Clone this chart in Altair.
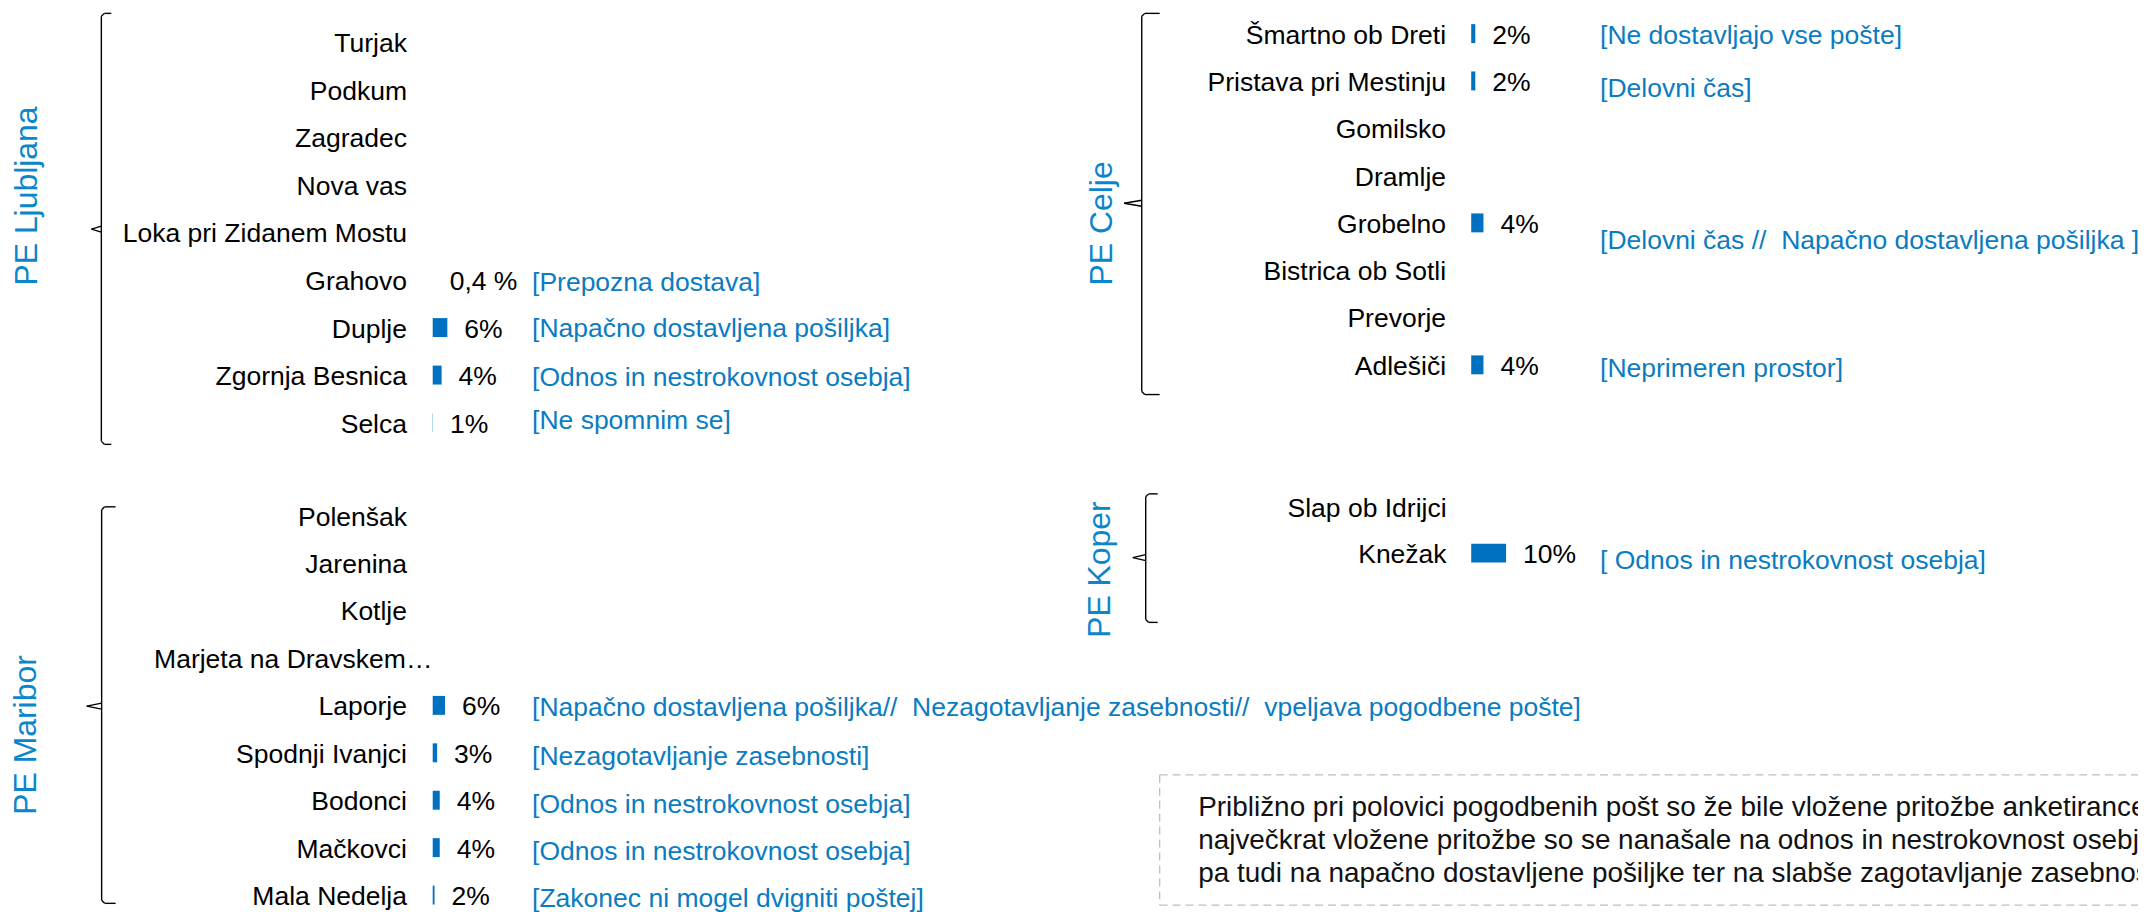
import altair as alt
import pandas as pd

FONT = "Liberation Sans, Arial, Helvetica, sans-serif"
BAR_BLUE = "#0070C0"
TEXT_BLUE = "#0A7CC1"
TITLE_BLUE = "#0C86CA"
BLACK = "#000000"
FS = 26.6

# ---------------- data ----------------
lj_names = ["Turjak", "Podkum", "Zagradec", "Nova vas", "Loka pri Zidanem Mostu",
            "Grahovo", "Duplje", "Zgornja Besnica", "Selca"]
lj_values = [None, None, None, None, None, 0.4, 6, 4, 1]
lj_pct = ["", "", "", "", "", "0,4 %", "6%", "4%", "1%"]
lj_comments = ["", "", "", "", "", "[Prepozna dostava]", "[Napačno dostavljena pošiljka]",
               "[Odnos in nestrokovnost osebja]", "[Ne spomnim se]"]

mb_names = ["Polenšak", "Jarenina", "Kotlje", "Marjeta na Dravskem…", "Laporje",
            "Spodnji Ivanjci", "Bodonci", "Mačkovci", "Mala Nedelja"]
mb_values = [None, None, None, None, 6, 3, 4, 4, 2]
mb_pct = ["", "", "", "", "6%", "3%", "4%", "4%", "2%"]
mb_comments = ["", "", "", "",
               "[Napačno dostavljena pošiljka// \u00a0Nezagotavljanje zasebnosti// \u00a0vpeljava pogodbene pošte]",
               "[Nezagotavljanje zasebnosti]", "[Odnos in nestrokovnost osebja]",
               "[Odnos in nestrokovnost osebja]", "[Zakonec ni mogel dvigniti poštej]"]

ce_names = ["Šmartno ob Dreti", "Pristava pri Mestinju", "Gomilsko", "Dramlje", "Grobelno",
            "Bistrica ob Sotli", "Prevorje", "Adlešiči"]
ce_values = [2, 2, None, None, 4, None, None, 4]
ce_pct = ["2%", "2%", "", "", "4%", "", "", "4%"]
ce_comments = ["[Ne dostavljajo vse pošte]", "[Delovni čas]", "", "",
               "[Delovni čas // \u00a0Napačno dostavljena pošiljka ]", "", "", "[Neprimeren prostor]"]

kp_names = ["Slap ob Idrijci", "Knežak"]
kp_values = [None, 10]
kp_pct = ["", "10%"]
kp_comments = ["", "[ Odnos in nestrokovnost osebja]"]

note_lines = [
    "Približno pri polovici pogodbenih pošt so že bile vložene pritožbe anketirancev,",
    "največkrat vložene pritožbe so se nanašale na odnos in nestrokovnost osebja,",
    "pa tudi na napačno dostavljene pošiljke ter na slabše zagotavljanje zasebnosti.",
]

DUMMY = pd.DataFrame({"a": [0]})


def panel(names, values, pcts, comments, comment_dy, y0, step, bar_x0, dmin, px_per_pct,
          label_right, comment_x, special=None):
    n = len(names)
    df = pd.DataFrame({"name": names, "value": values, "pct": pcts, "comment": comments})
    yscale = alt.Scale(domain=names, range=[y0, y0 + n * step], paddingInner=0, paddingOuter=0)
    xscale = alt.Scale(domain=[dmin, 10], range=[bar_x0, bar_x0 + (10 - dmin) * px_per_pct],
                       nice=False, zero=False, clamp=True)
    Y = alt.Y("name:N", scale=yscale, axis=None)
    X = alt.X("value:Q", scale=xscale, axis=None)
    base = alt.Chart(df)
    layers = []
    layers.append(
        base.transform_filter("isValid(datum.value)")
        .mark_bar(size=19, color=BAR_BLUE)
        .encode(x=X, x2=alt.datum(dmin), y=Y)
    )
    lab = base
    if special:
        lab = base.transform_filter(alt.datum.name != special[0])
    layers.append(
        lab.mark_text(align="right", baseline="middle", dy=2, font=FONT, fontSize=FS, color=BLACK)
        .encode(x=alt.value(label_right), y=Y, text="name:N")
    )
    if special:
        layers.append(
            base.transform_filter(alt.datum.name == special[0])
            .mark_text(align="right", baseline="middle", dy=2, font=FONT, fontSize=FS, color=BLACK)
            .encode(x=alt.value(special[1]), y=Y, text="name:N")
        )
    layers.append(
        base.transform_filter("datum.pct != ''")
        .mark_text(align="left", baseline="middle", dx=17, dy=2, font=FONT, fontSize=FS, color=BLACK)
        .encode(x=X, y=Y, text="pct:N")
    )
    for nm, c in zip(names, comments):
        if not c:
            continue
        layers.append(
            base.transform_filter(alt.datum.name == nm)
            .mark_text(align="left", baseline="middle", dy=comment_dy.get(nm, 2),
                       font=FONT, fontSize=FS, color=TEXT_BLUE)
            .encode(x=alt.value(comment_x), y=Y, text="comment:N")
        )
    return alt.layer(*layers)


def brace(bx, top, bot, hook, tipy, tipx):
    b = alt.Chart(DUMMY)
    st = dict(color=BLACK, strokeWidth=1.4)
    return [
        b.mark_rule(**st).encode(x=alt.value(bx), y=alt.value(top + 3), y2=alt.value(bot - 3)),
        b.mark_rule(**st).encode(x=alt.value(bx), x2=alt.value(bx + 3), y=alt.value(top + 3), y2=alt.value(top)),
        b.mark_rule(**st).encode(x=alt.value(bx + 3), x2=alt.value(bx + hook), y=alt.value(top)),
        b.mark_rule(**st).encode(x=alt.value(bx), x2=alt.value(bx + 3), y=alt.value(bot - 3), y2=alt.value(bot)),
        b.mark_rule(**st).encode(x=alt.value(bx + 3), x2=alt.value(bx + hook), y=alt.value(bot)),
        b.mark_rule(**st).encode(x=alt.value(tipx), x2=alt.value(bx), y=alt.value(tipy), y2=alt.value(tipy - 3)),
        b.mark_rule(**st).encode(x=alt.value(tipx), x2=alt.value(bx), y=alt.value(tipy), y2=alt.value(tipy + 3)),
    ]


def title(txt, x, y):
    return (
        alt.Chart(DUMMY)
        .mark_text(angle=270, align="center", baseline="middle", font=FONT, fontSize=32, color=TITLE_BLUE)
        .encode(x=alt.value(x), y=alt.value(y), text=alt.value(txt))
    )


lj = panel(lj_names, lj_values, lj_pct, lj_comments,
           {"Grahovo": 2.9, "Duplje": 1.9, "Zgornja Besnica": 2.5, "Selca": -1.8},
           y0=9, step=47.7, bar_x0=426.3, dmin=0.9, px_per_pct=2.88, label_right=400.5, comment_x=526)
mb = panel(mb_names, mb_values, mb_pct, mb_comments,
           {"Laporje": 2.6, "Spodnji Ivanjci": 4.3, "Bodonci": 4.8, "Mačkovci": 4.4, "Mala Nedelja": 4},
           y0=484.1, step=47.6, bar_x0=426.3, dmin=1.3, px_per_pct=2.62, label_right=400.5, comment_x=526,
           special=("Marjeta na Dravskem…", 426))
ce = panel(ce_names, ce_values, ce_pct, ce_comments,
           {"Šmartno ob Dreti": 2.4, "Pristava pri Mestinju": 8, "Grobelno": 18, "Adlešiči": 4.5},
           y0=0.25, step=47.5, bar_x0=1468.7, dmin=1.0, px_per_pct=4.1, label_right=1443.5, comment_x=1598)
kp = panel(kp_names, kp_values, kp_pct, kp_comments, {"Knežak": 7.6},
           y0=475.75, step=46.5, bar_x0=1468.7, dmin=0, px_per_pct=3.5, label_right=1444, comment_x=1598)

decor = []
decor += brace(93.7, 3.7, 436.3, 10, 220.3, 83.7)
decor += brace(94, 499, 897, 14, 699, 79)
decor += brace(1138, 3.7, 386.3, 18, 194.3, 1120.3)
decor += brace(1142, 486, 615, 12, 550, 1129)
decor += [
    title("PE Ljubljana", 19.3, 187),
    title("PE Maribor", 18.5, 728),
    title("PE Celje", 1097.7, 214.5),
    title("PE Koper", 1096.3, 562),
]

box_style = dict(color="#BFBFBF", strokeWidth=1.3, strokeDash=[8, 5])
note_box = [
    alt.Chart(DUMMY).mark_rule(**box_style).encode(x=alt.value(1156), x2=alt.value(2300), y=alt.value(768)),
    alt.Chart(DUMMY).mark_rule(**box_style).encode(x=alt.value(1156), x2=alt.value(2300), y=alt.value(898.7)),
    alt.Chart(DUMMY).mark_rule(**box_style).encode(x=alt.value(1156), y=alt.value(768), y2=alt.value(898.7)),
]
note_text = (
    alt.Chart(DUMMY)
    .mark_text(text=note_lines, align="left", baseline="alphabetic", lineHeight=33,
               font=FONT, fontSize=28, color="#111111")
    .encode(x=alt.value(1194.7), y=alt.value(809.3))
)

chart = (
    alt.layer(lj, mb, ce, kp, *decor, *note_box, note_text)
    .resolve_scale(x="independent", y="independent")
    .properties(width=2138, height=904, padding=0, autosize="none", background="white")
    .configure_view(stroke=None)
)

chart.save("out.html", embed_options={"renderer": "svg", "actions": False})
